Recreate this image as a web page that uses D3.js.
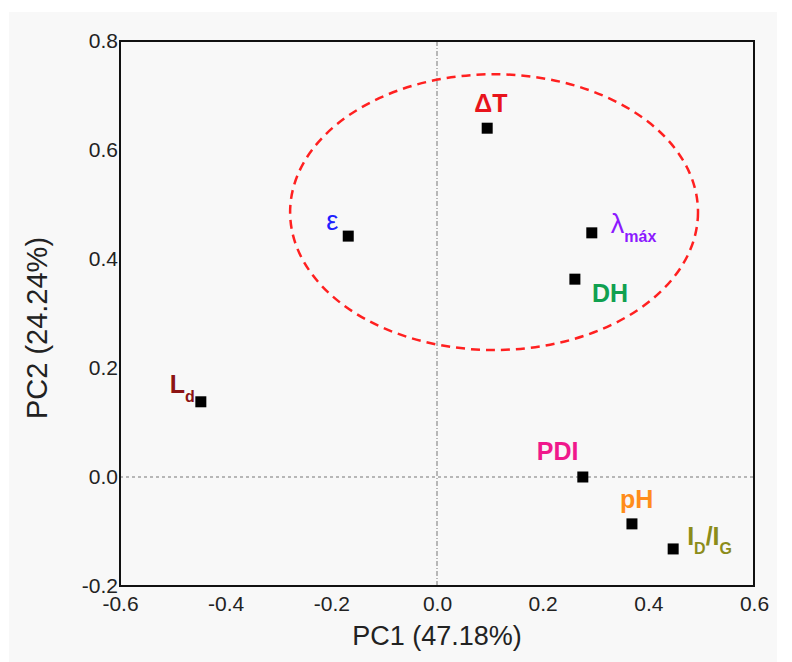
<!DOCTYPE html>
<meta charset="utf-8">
<style>
body { margin: 0; background: #fff; }
text { font-family: "Liberation Sans", Arial, sans-serif; }
.tick text { font-size: 21px; fill: #222; }
.lbl { font-weight: bold; font-size: 25px; }
</style>
<svg width="792" height="662"></svg>
<script src="https://cdn.jsdelivr.net/npm/d3@7"></script>
<script>

// loadings
var names = ["ε", "ΔT", "λ", "DH", "L", "PDI", "pH", "I"];
var subs  = ["", "", "máx", "", "d", "", "", "D"];
var pc1 = [-0.168, 0.095, 0.293, 0.261, -0.447, 0.276, 0.369, 0.447];
var pc2 = [0.442, 0.640, 0.448, 0.363, 0.138, 0.0, -0.086, -0.132];
var labelColors = ["#2020ff", "#e8141c", "#8c1aff", "#10a050", "#8c1414", "#f0188c", "#ff8c1a", "#8c8c1a"];

var xTicks = [-0.6, -0.4, -0.2, 0.0, 0.2, 0.4, 0.6];
var yTicks = [-0.2, 0.0, 0.2, 0.4, 0.6, 0.8];

// cluster ellipse (data units): centre, radii
var ell = {cx: 0.108, cy: 0.486, rx: 0.386, ry: 0.253};

// label offsets from marker, px
var offs = [[-22, -6], [-13, -16], [19, 0], [17, 23], [-31, -9], [-46, -17], [-12, -16], [14, -4]];

var svg = d3.select("svg");
var mLeft = 120, mTop = 41, mRight = 754, mBottom = 586;

svg.append("rect")
    .attr("x", 9).attr("y", 12)
    .attr("width", 768).attr("height", 650)
    .attr("fill", "#f8f8f8");

var x = d3.scaleLinear().domain([-0.6, 0.6]).range([mLeft, mRight]);
var y = d3.scaleLinear().domain([-0.2, 0.8]).range([mBottom, mTop]);

// zero lines
svg.append("line")
    .attr("x1", mLeft).attr("x2", mRight)
    .attr("y1", y(0)).attr("y2", y(0))
    .attr("stroke", "#777").attr("stroke-dasharray", "3,3");
svg.append("line")
    .attr("x1", x(0)).attr("x2", x(0))
    .attr("y1", mTop).attr("y2", mBottom)
    .attr("stroke", "#777").attr("stroke-dasharray", "5,2,1,2");

// axes
var fmt = function(d) { return d3.format(".1f")(d).replace("\u2212", "-"); };
svg.append("g")
    .attr("transform", "translate(0," + mBottom + ")")
    .call(d3.axisBottom(x).tickValues(xTicks).tickFormat(fmt).tickSize(0).tickPadding(10))
  .select(".domain").remove();
svg.append("g")
    .attr("transform", "translate(" + mLeft + ",0)")
    .call(d3.axisLeft(y).tickValues(yTicks).tickFormat(fmt).tickSize(0).tickPadding(2))
  .select(".domain").remove();

svg.append("rect")
    .attr("x", mLeft).attr("y", mTop)
    .attr("width", mRight - mLeft).attr("height", mBottom - mTop)
    .attr("fill", "none").attr("stroke", "#111").attr("stroke-width", 2);

svg.append("text")
    .attr("x", x(0)).attr("y", 645)
    .attr("text-anchor", "middle")
    .attr("font-size", 27).attr("fill", "#222")
    .text("PC1 (47.18%)");
svg.append("text")
    .attr("transform", "translate(47,328) rotate(-90)")
    .attr("text-anchor", "middle")
    .attr("font-size", 29).attr("fill", "#222")
    .text("PC2 (24.24%)");

// ellipse
svg.append("ellipse")
    .attr("cx", x(ell.cx)).attr("cy", y(ell.cy))
    .attr("rx", x(ell.rx) - x(0)).attr("ry", y(0) - y(ell.ry))
    .attr("fill", "none").attr("stroke", "#ff2020")
    .attr("stroke-width", 2.5).attr("stroke-dasharray", "9,6");

// markers
svg.selectAll("rect.pt")
  .data(pc1)
  .enter().append("rect")
    .attr("class", "pt")
    .attr("x", function(d) { return x(d) - 5.5; })
    .attr("y", function(d, i) { return y(pc2[i]) - 5.5; })
    .attr("width", 11).attr("height", 11)
    .attr("fill", "#000");

// labels
var lbl = svg.selectAll("text.lbl")
  .data(names)
  .enter().append("text")
    .attr("class", "lbl")
    .attr("x", function(d, i) { return x(pc1[i]) + offs[i][0]; })
    .attr("y", function(d, i) { return y(pc2[i]) + offs[i][1]; })
    .attr("fill", function(d, i) { return labelColors[i]; });

lbl.each(function(d, i) {
  var t = d3.select(this);
  var main = t.append("tspan").text(d);
  // greek glyphs look lighter in the original
  if (d == "ε" || d == "λ") main.attr("font-weight", "normal").attr("font-size", 27);
  if (subs[i]) {
    t.append("tspan").attr("font-size", 16).attr("dy", 9).text(subs[i]);
  }
  if (i == 7) {
    t.append("tspan").attr("dy", -9).text("/I");
    t.append("tspan").attr("font-size", 16).attr("dy", 9).text("G");
  }
});

</script>
